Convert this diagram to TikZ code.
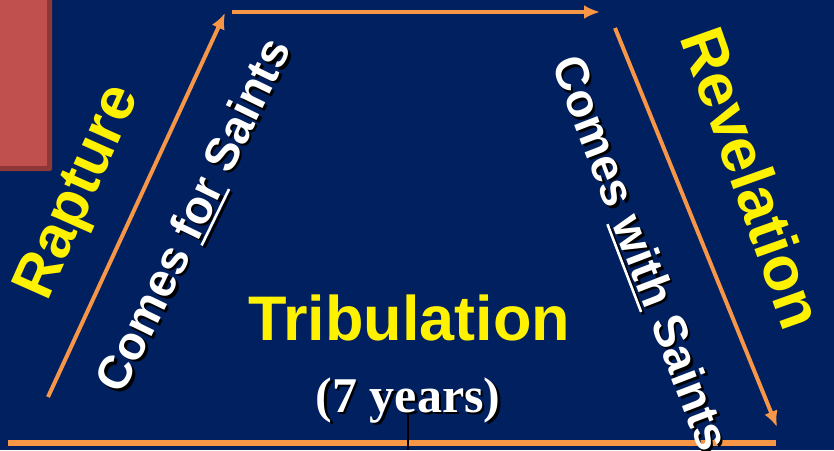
\documentclass[tikz,border=0pt]{standalone}
\usepackage{fontspec}
\setmainfont{Liberation Sans}
\newfontfamily\timesfont{Liberation Serif}
\usetikzlibrary{arrows.meta}
\definecolor{navy}{HTML}{002060}
\definecolor{arroworange}{HTML}{F79646}
\definecolor{boxred}{HTML}{C0504D}
\definecolor{boxedge}{HTML}{8C3836}
\newcommand{\thickul}[1]{\setbox0\hbox{#1}\rlap{\rule[-0.13em]{\wd0}{0.055em}}\box0\relax}

\begin{document}
\begin{tikzpicture}[x=1pt,y=-1pt,>={Latex[length=16pt,width=14pt]},
    arrowline/.style={arroworange,line width=4pt},
    yellowtext/.style={text=yellow,inner sep=0pt,font=\bfseries\fontsize{#1}{#1}\selectfont},
    saintstext/.style={inner sep=0pt,font=\bfseries\fontsize{47}{47}\selectfont}]
    % draw the background
    \useasboundingbox (0,0) rectangle (834,450);
    \clip (0,0) rectangle (834,450);
    \fill[navy] (0,0) rectangle (834,450);

    % draw the red box in the corner
    \fill[boxedge, rounded corners=2pt] (-5,-5) rectangle (52,171);
    \fill[boxred] (-5,-5) rectangle (47,166);

    % the points of the arrows
    \coordinate (upstart) at (48,397);
    \coordinate (uptip) at (225,13);
    \coordinate (topstart) at (232,12);
    \coordinate (toptip) at (600,12);
    \coordinate (downstart) at (615,28);
    \coordinate (downtip) at (777,427);
    \coordinate (baseleft) at (8,443);
    \coordinate (baseright) at (776,443);
    \coordinate (marktop) at (408,412);
    \coordinate (markbottom) at (408,450);

    % draw the arrows
    \draw[arrowline,->] (upstart) -- (uptip);
    \draw[arrowline,->] (topstart) -- (toptip);
    \draw[arrowline,->] (downstart) -- (downtip);
    \draw[arroworange,line width=6pt] (baseleft) -- (baseright);
    \draw[black,line width=1.5pt] (marktop) -- (markbottom);

    % the yellow words
    \node[yellowtext=60,rotate=66] (rapture) at (80,193) {Rapture};
    \node[yellowtext=62,rotate=-70.5] (revelation) at (753,178) {Revelation};
    \node[yellowtext=63,anchor=base] (tribulation) at (409,340) {Tribulation};

    % white words with a shadow behind them
    \foreach \col/\off in {black/2.5,white/0} {
        \node[saintstext,text=\col,rotate=64] (comesfor-\col)
            at ([shift={(\off,\off)}]195,216) {Comes \thickul{for} Saints};
        \node[saintstext,text=\col,rotate=-69] (comeswith-\col)
            at ([shift={(\off,\off)}]639,254) {Comes \thickul{with} Saints};
        \node[inner sep=0pt,anchor=base,text=\col,font=\timesfont\bfseries\fontsize{50}{50}\selectfont]
            (years-\col) at ([shift={(\off,\off)}]408,412) {(7 years)};
        }
\end{tikzpicture}
\end{document}
